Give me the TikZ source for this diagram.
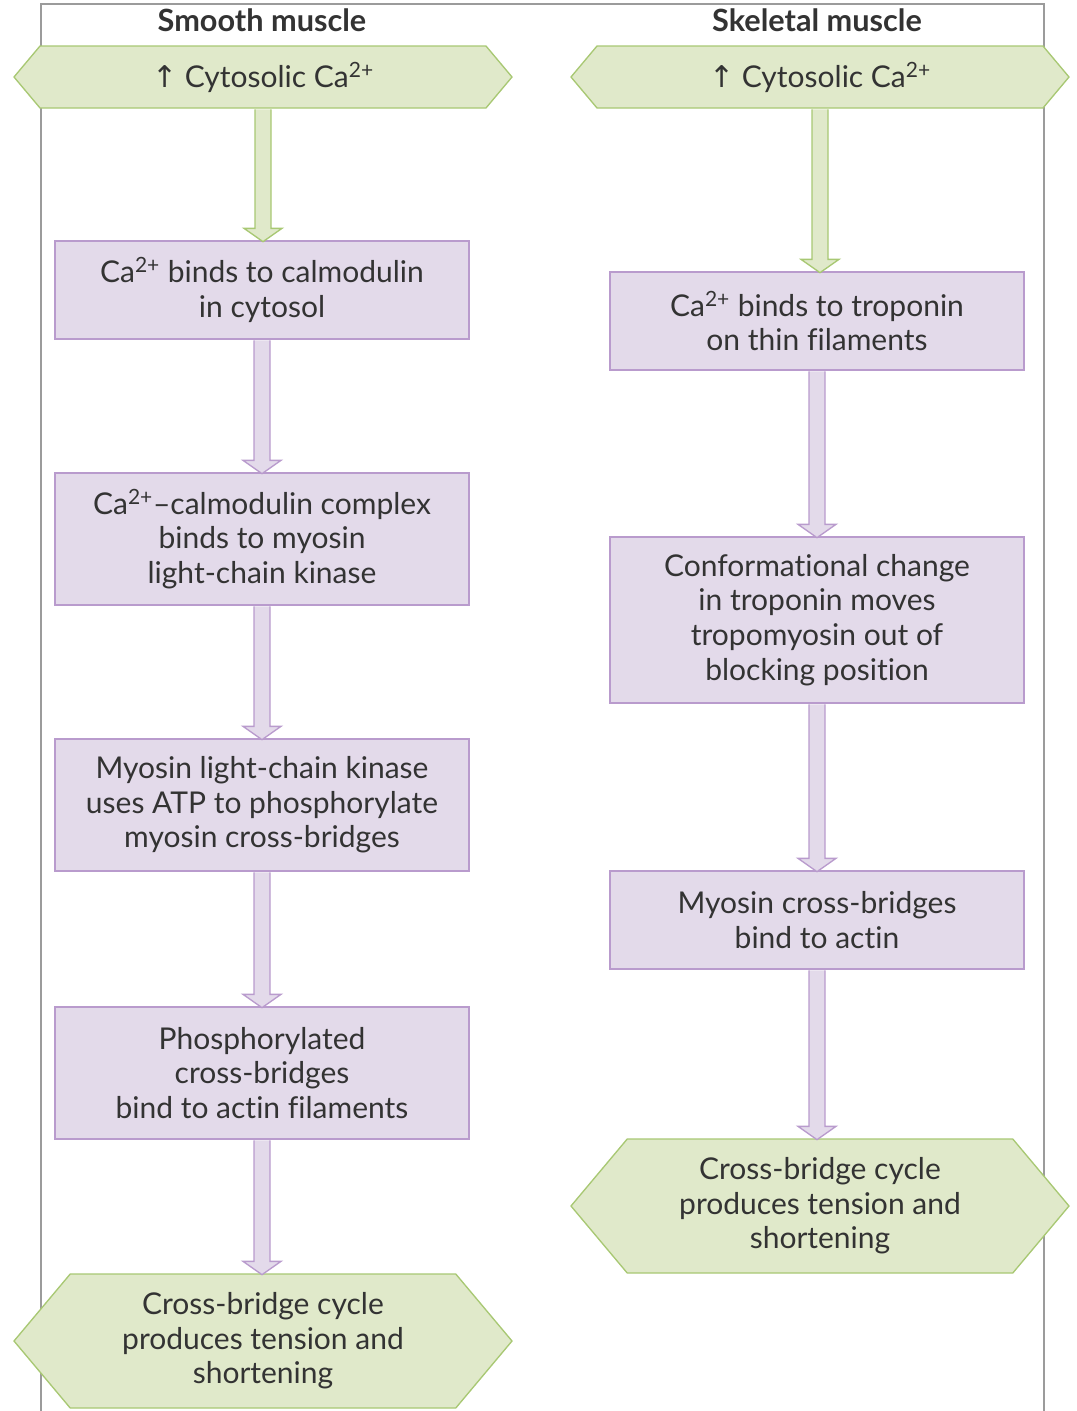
\documentclass[tikz,border=0pt]{standalone}
\usepackage{fontspec}
\setmainfont[Ligatures={NoCommon,NoRare}]{Lato}
\newfontfamily\symbfont{DejaVu Sans}
\usetikzlibrary{shapes.symbols,calc}
\definecolor{hexfill}{RGB}{224,233,202}
\definecolor{hexline}{RGB}{168,200,115}
\definecolor{boxfill}{RGB}{227,218,234}
\definecolor{boxline}{RGB}{185,155,205}
\definecolor{txt}{RGB}{51,51,51}
\definecolor{frameline}{RGB}{155,155,155}
\tikzset{
hexa/.style={signal,signal to=west and east,signal pointer angle=100,draw=hexline,fill=hexfill,line width=1pt,minimum width=373.5pt,inner sep=0pt,align=center,text=txt,font=\fontsize{22.5}{26}\selectfont},
stepbox/.style={rectangle,draw=boxline,fill=boxfill,line width=1pt,minimum width=310.5pt,inner sep=0pt,align=center,text=txt,font=\fontsize{22.5}{26}\selectfont},
colhead/.style={text=txt,font=\fontsize{23}{26}\selectfont\bfseries},
garrow/.style={draw=hexline,fill=hexfill,line width=1pt},
parrow/.style={draw=boxline,fill=boxfill,line width=1pt}
}
\newcommand{\upca}{{\symbfont\char"2191}~Cytosolic Ca\textsuperscript{2+}}
\newcommand{\blockarrow}[3]{\filldraw[#3] let \p1=(#1.south),\p2=(#2.north) in (\x1-6pt,\y1-0.5pt)--(\x1-6pt,\y2+9pt)--(\x1-14.25pt,\y2+9pt)--(\x1,\y2-1pt)--(\x1+14.25pt,\y2+9pt)--(\x1+6pt,\y2+9pt)--(\x1+6pt,\y1-0.5pt);}
\begin{document}
\begin{tikzpicture}[x=0.75pt,y=-0.75pt]
\useasboundingbox (0,0) rectangle (1077,1411);
\draw[frameline,line width=1pt](41,1411)--(41,4)--(1044,4)--(1044,1411);
\node[colhead](lhead) at (262,20) {Smooth muscle};
\node[colhead](rhead) at (817,20) {Skeletal muscle};
\node[hexa,minimum height=46.5pt](ltop) at (263,77) {\upca};
\node[stepbox,minimum height=73.5pt](lbind) at (262,290) {Ca\textsuperscript{2+} binds to calmodulin\\in cytosol};
\node[stepbox,minimum height=99pt](lcomplex) at (262,539) {Ca\textsuperscript{2+}–calmodulin complex\\binds to myosin\\light-chain kinase};
\node[stepbox,minimum height=99pt](lkinase) at (262,805) {Myosin light-chain kinase\\uses ATP to phosphorylate\\myosin cross-bridges};
\node[stepbox,minimum height=99pt](lphos) at (262,1073) {Phosphorylated\\cross-bridges\\bind to actin filaments};
\node[hexa,minimum height=100.5pt](lcycle) at (263,1341) {Cross-bridge cycle\\produces tension and\\shortening};
\node[hexa,minimum height=46.5pt](rtop) at (820,77) {\upca};
\node[stepbox,minimum height=73.5pt](rbind) at (817,321) {Ca\textsuperscript{2+} binds to troponin\\on thin filaments};
\node[stepbox,minimum height=124.5pt](rconf) at (817,620) {Conformational change\\in troponin moves\\tropomyosin out of\\blocking position};
\node[stepbox,minimum height=73.5pt](ractin) at (817,920) {Myosin cross-bridges\\bind to actin};
\node[hexa,minimum height=100.5pt](rcycle) at (820,1206) {Cross-bridge cycle\\produces tension and\\shortening};
\blockarrow{ltop}{lbind}{garrow}
\blockarrow{lbind}{lcomplex}{parrow}
\blockarrow{lcomplex}{lkinase}{parrow}
\blockarrow{lkinase}{lphos}{parrow}
\blockarrow{lphos}{lcycle}{parrow}
\blockarrow{rtop}{rbind}{garrow}
\blockarrow{rbind}{rconf}{parrow}
\blockarrow{rconf}{ractin}{parrow}
\blockarrow{ractin}{rcycle}{parrow}
\end{tikzpicture}
\end{document}
